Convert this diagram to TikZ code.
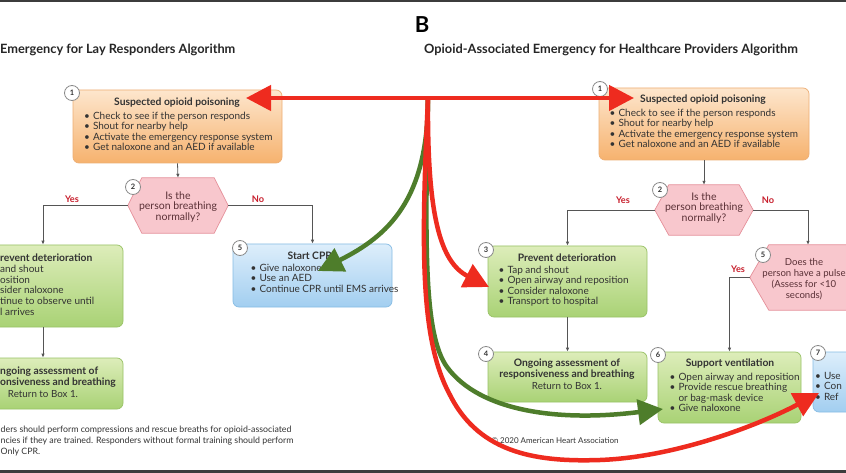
\documentclass[tikz,border=0pt]{standalone}
\usepackage{fontspec}
\setmainfont{Lato}
\usetikzlibrary{arrows.meta,calc}
\definecolor{OrT}{HTML}{FDE6CD}
\definecolor{OrBt}{HTML}{F6B26E}
\definecolor{OrD}{HTML}{EDAE74}
\definecolor{GrT}{HTML}{DDEDBA}
\definecolor{GrBt}{HTML}{A9D275}
\definecolor{GrD}{HTML}{98C265}
\definecolor{BlT}{HTML}{DDEEFB}
\definecolor{BlBt}{HTML}{A2CEF0}
\definecolor{BlD}{HTML}{86BCE4}
\definecolor{PkF}{HTML}{F8C7CD}
\definecolor{PkD}{HTML}{E58F99}
\definecolor{TxtD}{HTML}{333333}
\definecolor{HexT}{HTML}{5A3036}
\definecolor{YNred}{HTML}{C8202E}
\definecolor{ConnG}{HTML}{555555}
\definecolor{NumB}{HTML}{8A8A8A}
\definecolor{AnnR}{HTML}{EE2B1F}
\definecolor{AnnG}{HTML}{4E7D2B}
\definecolor{Frame}{HTML}{3C3C3C}
\newcommand\hexpath[2]{\draw[hexs] (#1.west) -- ([xshift=#2]#1.north west) -- ([xshift=-#2]#1.north east) -- (#1.east) -- ([xshift=-#2]#1.south east) -- ([xshift=#2]#1.south west) -- cycle;}
\begin{document}
\begin{tikzpicture}[x=1pt,y=-1pt,
  box/.style={rounded corners=6pt, line width=0.7pt, inner sep=0pt},
  obox/.style={box, draw=OrD, top color=OrT, bottom color=OrBt},
  gbox/.style={box, draw=GrD, top color=GrT, bottom color=GrBt},
  bbox/.style={box, draw=BlD, top color=BlT, bottom color=BlBt},
  hexs/.style={draw=PkD, line width=0.7pt, fill=PkF},
  hexbox/.style={inner sep=0pt},
  num/.style={circle, draw=NumB, fill=white, line width=0.8pt, minimum size=15pt, inner sep=0pt, font=\fontsize{7.5}{8}\selectfont\bfseries, text=TxtD},
  ttl/.style={font=\fontsize{10.3}{11}\selectfont\bfseries, text=TxtD, inner sep=0pt},
  txt/.style={font=\fontsize{9.8}{11}\selectfont, text=TxtD, inner sep=0pt},
  lst/.style={font=\fontsize{10}{10.4}\selectfont, text=TxtD, align=left, anchor=north west, inner sep=0pt},
  hext/.style={font=\fontsize{10.5}{10.8}\selectfont, text=HexT, align=center, inner sep=0pt},
  yn/.style={font=\fontsize{9.2}{10}\selectfont\bfseries, text=YNred, inner sep=0pt},
  conn/.style={draw=ConnG, line width=0.8pt, -{Latex[length=4pt,width=3.5pt]}},
  ann/.style={line width=4.5pt, -{Triangle[length=25pt,width=25pt]}},
  head/.style={font=\fontsize{12.8}{14}\selectfont\bfseries, text=black!85, inner sep=0pt}
]
\useasboundingbox (0,0) rectangle (846,473);
\fill[white] (0,0) rectangle (846,473);
\fill[Frame] (0,0) rectangle (846,2);
\fill[Frame] (0,470) rectangle (846,473);

% headings
\node[font=\fontsize{22}{24}\selectfont\bfseries, inner sep=0pt] (B) at (422,25) {B};
\node[head, anchor=west] (TL) at (0,50) {Emergency for Lay Responders Algorithm};
\node[head, anchor=west] (TR) at (424,50) {Opioid-Associated Emergency for Healthcare Providers Algorithm};

% ---------------- LEFT ----------------
\node[obox, minimum width=209pt, minimum height=73pt] (L1) at (177.5,126.5) {};
\node[num] (n1L) at (72,93) {1};
\node[ttl] (L1t) at (177,103) {Suspected opioid poisoning};
\node[lst] (L1l) at (84,112) {\textbullet\hspace{3pt}Check to see if the person responds\\
\textbullet\hspace{3pt}Shout for nearby help\\
\textbullet\hspace{3pt}Activate the emergency response system\\
\textbullet\hspace{3pt}Get naloxone and an AED if available};

\node[hexbox, minimum width=100pt, minimum height=55pt] (L2) at (178,205.5) {};
\hexpath{L2}{14pt}
\node[num] (n2L) at (133,187) {2};
\node[hext] (L2t) at (178,207) {Is the\\person breathing\\normally?};

\node[gbox, minimum width=160pt, minimum height=82pt] (L3) at (43,286) {};
\node[ttl, anchor=west] (L3t) at (0,258) {revent deterioration};
\node[lst, font=\fontsize{10}{10.7}\selectfont] (L3l) at (0,265) {and shout\\osition\\sider naloxone\\tinue to observe until\\l arrives};

\node[gbox, minimum width=160pt, minimum height=51pt] (L4) at (43,383.5) {};
\node[ttl, anchor=west] (L4a) at (0,372) {ngoing assessment of};
\node[ttl, anchor=west] (L4b) at (0,383) {onsiveness and breathing};
\node[txt] (L4c) at (43,394) {Return to Box 1.};

\node[bbox, minimum width=159pt, minimum height=63pt] (L5) at (312.5,275.5) {};
\node[num] (n5L) at (240,248) {5};
\node[ttl] (L5t) at (312,256) {Start CPR*};
\node[lst] (L5l) at (250.5,264) {\textbullet\hspace{3pt}Give naloxone\\
\textbullet\hspace{3pt}Use an AED\\
\textbullet\hspace{3pt}Continue CPR until EMS arrives};

\node[lst, font=\fontsize{8.8}{11}\selectfont] (FN) at (0.5,425.5) {ders should perform compressions and rescue breaths for opioid-associated\\
ncies if they are trained. Responders without formal training should perform\\
Only CPR.};

\draw[conn] (L1.south) -- (L2.north);
\draw[conn] (L2.west) -| (L3.north);
\draw[conn] (L2.east) -| (L5.north);
\draw[conn] (L3.south) -- (L4.north);
\node[yn] (yL) at (72,199) {Yes};
\node[yn] (nL) at (258,199) {No};

% ---------------- RIGHT ----------------
\node[obox, minimum width=210pt, minimum height=72pt] (R1) at (704,124) {};
\node[num] (n1R) at (600,89) {1};
\node[ttl] (R1t) at (703,100) {Suspected opioid poisoning};
\node[lst] (R1l) at (609.5,109) {\textbullet\hspace{3pt}Check to see if the person responds\\
\textbullet\hspace{3pt}Shout for nearby help\\
\textbullet\hspace{3pt}Activate the emergency response system\\
\textbullet\hspace{3pt}Get naloxone and an AED if available};

\node[hexbox, minimum width=98pt, minimum height=50pt] (R2) at (704,210) {};
\hexpath{R2}{14pt}
\node[num] (n2R) at (660,190) {2};
\node[hext] (R2t) at (704,208) {Is the\\person breathing\\normally?};

\node[gbox, minimum width=159pt, minimum height=71pt] (R3) at (567.5,281.5) {};
\node[num] (n3R) at (486,250) {3};
\node[ttl] (R3t) at (567,258) {Prevent deterioration};
\node[lst] (R3l) at (498.5,266) {\textbullet\hspace{3pt}Tap and shout\\
\textbullet\hspace{3pt}Open airway and reposition\\
\textbullet\hspace{3pt}Consider naloxone\\
\textbullet\hspace{3pt}Transport to hospital};

\node[hexbox, minimum width=116pt, minimum height=65pt] (R5) at (808,277.5) {};
\hexpath{R5}{19pt}
\node[num] (n5R) at (763,255) {5};
\node[hext, font=\fontsize{9.6}{10.8}\selectfont] (R5t) at (804,279) {Does the\\person have a pulse\\(Assess for <10\\seconds)};

\node[gbox, minimum width=159pt, minimum height=50pt] (R4) at (567.5,377) {};
\node[num] (n4R) at (486,354) {4};
\node[ttl, align=center, font=\fontsize{10.3}{11}\selectfont\bfseries] (R4t) at (567,369) {Ongoing assessment of\\responsiveness and breathing};
\node[txt] (R4c) at (567,386) {Return to Box 1.};

\node[gbox, minimum width=143pt, minimum height=71pt] (R6) at (729.5,387.5) {};
\node[num] (n6R) at (658,355) {6};
\node[ttl] (R6t) at (730,364) {Support ventilation};
\node[lst] (R6l) at (669.5,373) {\textbullet\hspace{3pt}Open airway and reposition\\
\textbullet\hspace{3pt}Provide rescue breathing\\
\phantom{\textbullet}\hspace{3pt}or bag-mask device\\
\textbullet\hspace{3pt}Give naloxone};

\node[bbox, minimum width=90pt, minimum height=60pt] (R7) at (858,382) {};
\node[num] (n7R) at (818,353) {7};
\node[lst] (R7l) at (815,372) {\textbullet\hspace{3pt}Use\\
\textbullet\hspace{3pt}Con\\
\textbullet\hspace{3pt}Ref};

\node[txt, font=\fontsize{8}{9}\selectfont] (CP) at (555,441) {\textcopyright\ 2020 American Heart Association};

\draw[conn] (R1.south) -- (R2.north);
\draw[conn] (R2.west) -| (R3.north);
\draw[conn] (R2.east) -| (R5.north);
\draw[conn] (R3.south) -- (R4.north);
\draw[conn] (R5.west) -| (R6.north);
\node[yn] (yR) at (623,200) {Yes};
\node[yn] (nR) at (768,200) {No};
\node[yn] (y5R) at (738,269) {Yes};

% ---------------- annotations ----------------
\coordinate (J) at (428,98);
\coordinate (tipL) at (246,98);
\coordinate (tipR) at (634,98);
\coordinate (tipG1) at (318,271);
\coordinate (tipR2) at (489,287);
\coordinate (tipG2) at (663,409);
\coordinate (tipR3) at (819,393);
\draw[ann, AnnG] (J) .. controls (428,200) and (388,236) .. (tipG1);
\draw[ann, AnnG] (J) .. controls (425,250) and (424,335) .. (447,367) .. controls (480,412) and (560,422) .. (tipG2);
\draw[ann, AnnR] (J) .. controls (427,215) and (440,262) .. (tipR2);
\draw[ann, AnnR] (J) .. controls (421,250) and (420,340) .. (450,395) .. controls (480,455) and (540,462) .. (600,460) .. controls (680,457) and (765,422) .. (tipR3);
\draw[ann, AnnR] (J) -- (tipL);
\draw[ann, AnnR] (J) -- (tipR);
\end{tikzpicture}
\end{document}
